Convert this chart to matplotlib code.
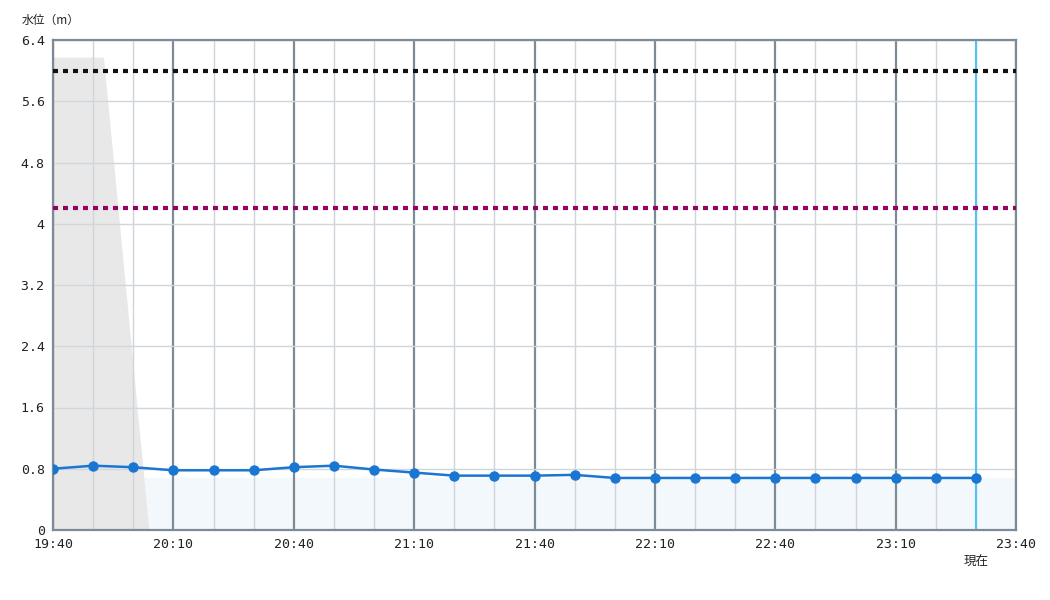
import matplotlib
matplotlib.use("Agg")
import matplotlib.pyplot as plt

plt.rcParams['font.family'] = ['Noto Sans CJK JP', 'DejaVu Sans']

# water level readings every 10 minutes from 19:40
times = ["19:40", "19:50", "20:00", "20:10", "20:20", "20:30", "20:40", "20:50",
         "21:00", "21:10", "21:20", "21:30", "21:40", "21:50", "22:00", "22:10",
         "22:20", "22:30", "22:40", "22:50", "23:00", "23:10", "23:20", "23:30"]
levels = [0.80, 0.84, 0.82, 0.78, 0.78, 0.78, 0.82, 0.84,
          0.79, 0.75, 0.71, 0.71, 0.71, 0.72, 0.68, 0.68,
          0.68, 0.68, 0.68, 0.68, 0.68, 0.68, 0.68, 0.68]
x_ticks = ["19:40", "20:10", "20:40", "21:10", "21:40", "22:10", "22:40", "23:10", "23:40"]
y_ticks = [0, 0.8, 1.6, 2.4, 3.2, 4, 4.8, 5.6, 6.4]
y_tick_labels = ["0", "0.8", "1.6", "2.4", "3.2", "4", "4.8", "5.6", "6.4"]
level_black = 6.0
level_purple = 4.2
now_time = "23:30"
# grey shaded region (time, level)
shade_times = ["19:40", "19:52.7", "20:04", "19:40"]
shade_levels = [6.17, 6.17, 0, 0]


def mins(t):
    h, m = t.split(":")
    return (int(h) - 19) * 60 + float(m) - 40


x = [mins(t) for t in times]
xmax = mins("23:40")

fig = plt.figure(figsize=(10.5, 6), dpi=100)
ax = fig.add_axes([53 / 1050, 70 / 600, 963 / 1050, 490 / 600])

# gridlines
for m in range(0, int(xmax) + 1, 10):
    if m % 30 == 0:
        ax.axvline(m, color="#7d8b97", lw=1.6, zorder=1)
    else:
        ax.axvline(m, color="#d0d4d8", lw=1, zorder=1)
for v in y_ticks:
    ax.axhline(v, color="#cfd6de", lw=1, zorder=1)

# light blue fill at current level
ax.fill_between([0, xmax], 0, levels[-1], color="#f3f8fd", zorder=0.5)
# grey region
ax.fill([mins(t) for t in shade_times], shade_levels, color="#e8e8e8", lw=0, zorder=0.8)

ax.plot([0, xmax], [level_black, level_black], color="#111111", lw=3,
        linestyle=(0, (1.2, 1.2)), zorder=3)
ax.plot([0, xmax], [level_purple, level_purple], color="#990066", lw=3,
        linestyle=(0, (1.2, 1.2)), zorder=3)

ax.axvline(mins(now_time), color="#4fc3f7", lw=1.5, zorder=2)

ax.plot(x, levels, color="#1976d2", lw=1.8, marker="o", ms=6.5, zorder=4)

ax.set_xlim(0, xmax)
ax.set_ylim(0, 6.4)
ax.set_xticks([mins(t) for t in x_ticks])
ax.set_xticklabels(x_ticks, family="DejaVu Sans Mono", fontsize=9.5)
ax.set_yticks(y_ticks)
ax.set_yticklabels(y_tick_labels, family="DejaVu Sans Mono", fontsize=9.5)
ax.tick_params(length=0, pad=6, colors="#222222")
for s in ax.spines.values():
    s.set_color("#7d8b97")
    s.set_linewidth(1.6)

fig.text(22 / 1050, 1 - 20 / 600, "水位（m）", fontsize=8.5, va="center", ha="left",
         color="#222222")
ax.text(mins(now_time), -0.34, "現在", fontsize=9, ha="center", va="top",
        color="#222222", transform=ax.transData, clip_on=False)

fig.savefig("out.png", dpi=100)
